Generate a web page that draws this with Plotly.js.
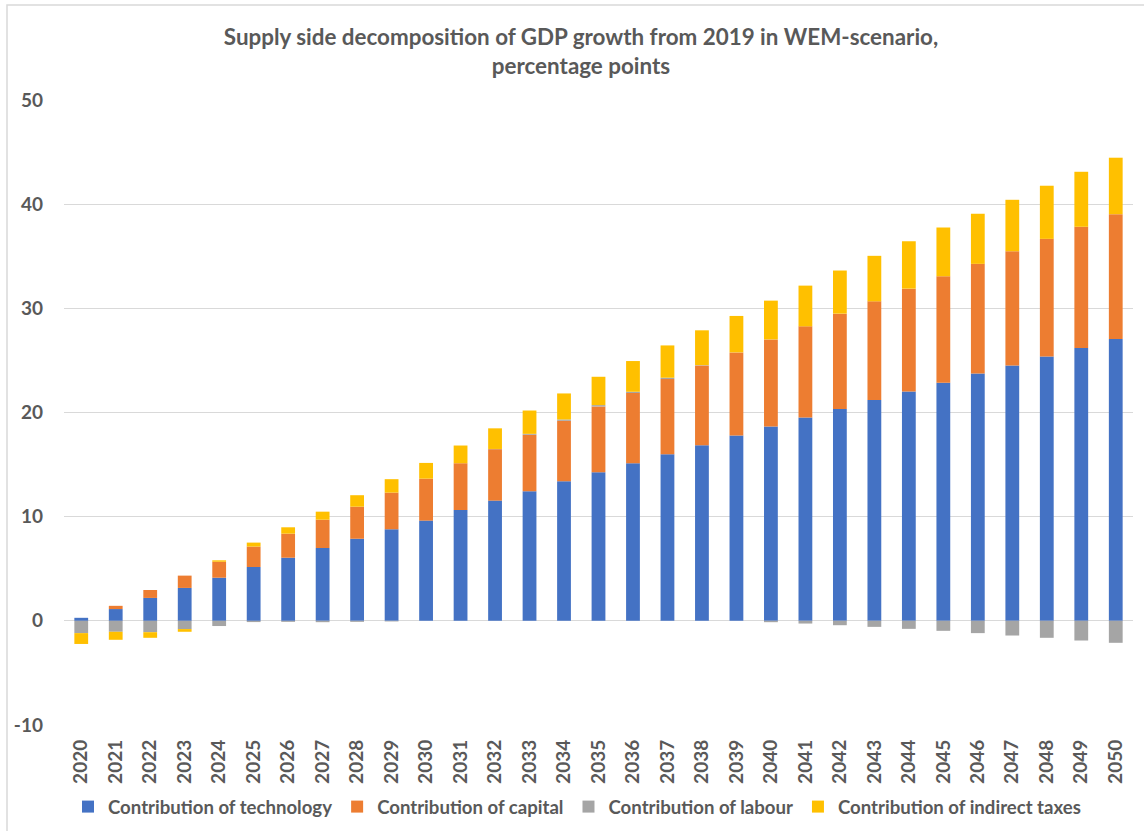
<!DOCTYPE html>
<html>
<head>
<meta charset="utf-8">
<script src="https://cdn.plot.ly/plotly-3.0.1.min.js"></script>
<style>
  html, body { margin: 0; padding: 0; background: #ffffff; }
  #chart { width: 1144px; height: 831px; }
</style>
</head>
<body>
<div id="chart"></div>
<script>
// Years on the category axis
const years = ['2020','2021','2022','2023','2024','2025','2026','2027','2028','2029',
               '2030','2031','2032','2033','2034','2035','2036','2037','2038','2039',
               '2040','2041','2042','2043','2044','2045','2046','2047','2048','2049','2050'];

// Contributions to GDP growth since 2019, percentage points
const technology = [0.29, 1.13, 2.20, 3.16, 4.14, 5.17, 6.06, 6.99, 7.88, 8.79,
                    9.62, 10.64, 11.54, 12.44, 13.40, 14.27, 15.13, 16.00, 16.86, 17.79,
                    18.65, 19.52, 20.33, 21.19, 22.02, 22.86, 23.75, 24.52, 25.38, 26.19, 27.06];
const capital = [0.00, 0.31, 0.76, 1.18, 1.53, 1.96, 2.31, 2.72, 3.08, 3.52,
                 4.03, 4.49, 4.94, 5.42, 5.80, 6.31, 6.74, 7.21, 7.66, 7.98,
                 8.37, 8.75, 9.16, 9.48, 9.87, 10.22, 10.52, 10.96, 11.29, 11.64, 11.98];
const labour = [-1.18, -1.05, -1.09, -0.79, -0.50, -0.12, -0.10, -0.13, -0.10, -0.06,
                0.00, 0.00, 0.02, 0.09, 0.13, 0.13, 0.12, 0.13, 0.03, 0.00,
                -0.13, -0.26, -0.42, -0.58, -0.77, -0.96, -1.18, -1.41, -1.63, -1.89, -2.11];
const indirectTaxes = [-1.04, -0.77, -0.54, -0.26, 0.14, 0.38, 0.61, 0.77, 1.10, 1.29,
                       1.51, 1.70, 1.98, 2.24, 2.50, 2.72, 2.95, 3.10, 3.34, 3.50,
                       3.72, 3.91, 4.14, 4.37, 4.55, 4.68, 4.81, 4.94, 5.10, 5.28, 5.42];

// Series names and value-axis ticks
const seriesNames = ['Contribution of technology', 'Contribution of capital',
                     'Contribution of labour', 'Contribution of indirect taxes'];
const yTickVals = [-10, 0, 10, 20, 30, 40, 50];
const yTickText = ['-10', '0', '10', '20', '30', '40', '50'];

const seriesColors = ['#4472C4', '#ED7D31', '#A5A5A5', '#FFC000'];
const seriesValues = [technology, capital, labour, indirectTaxes];

const textColor = '#595959';
const fontFamily = 'Lato, "Open Sans", sans-serif';

const traces = seriesValues.map((vals, i) => ({
  type: 'bar',
  name: seriesNames[i],
  x: years,
  y: vals,
  marker: { color: seriesColors[i], line: { width: 0 } },
  hoverinfo: 'skip'
}));

// Plot-area pixel geometry used to place the frame of the chart
const W = 1144, H = 831;
const mL = 64, mR = 11, mT = 100, mB = 105.5;
const plotW = W - mL - mR, plotH = H - mT - mB;
const px = v => (v - mL) / plotW;
const py = v => (H - mB - v) / plotH;

const layout = {
  width: W,
  height: H,
  margin: { l: mL, r: mR, t: mT, b: mB, pad: 0, autoexpand: false },
  paper_bgcolor: '#ffffff',
  plot_bgcolor: '#ffffff',
  barmode: 'relative',
  bargap: 0.6,
  showlegend: true,
  font: { family: fontFamily, color: textColor },
  title: {
    text: 'Supply side decomposition of GDP growth from 2019 in WEM-scenario,<br>percentage points',
    font: { family: fontFamily, size: 22.4, color: textColor, weight: 'bold' },
    xref: 'container', x: 581 / W, xanchor: 'center',
    yref: 'container', y: 1 - 45 / H, yanchor: 'top'
  },
  xaxis: {
    type: 'category',
    tickangle: -90,
    tickfont: { family: fontFamily, size: 19, color: textColor, weight: 'bold' },
    showgrid: false,
    showline: false,
    zeroline: false,
    ticks: '',
    ticklabelstandoff: 10,
    automargin: false,
    fixedrange: true
  },
  yaxis: {
    range: [-10, 50],
    tickmode: 'array',
    tickvals: yTickVals,
    ticktext: yTickText,
    tickfont: { family: fontFamily, size: 19, color: textColor, weight: 'bold' },
    showgrid: true,
    gridcolor: '#D9D9D9',
    gridwidth: 1,
    zeroline: true,
    zerolinecolor: '#D9D9D9',
    zerolinewidth: 1,
    showline: false,
    ticks: '',
    ticklabelstandoff: 20,
    automargin: false,
    fixedrange: true
  },
  legend: {
    orientation: 'h',
    xref: 'container', x: 577 / W, xanchor: 'center',
    yref: 'container', y: 1 - 807 / H, yanchor: 'middle',
    traceorder: 'normal',
    font: { family: fontFamily, size: 18.6, color: textColor, weight: 'bold' },
    itemwidth: 30,
    bgcolor: 'rgba(0,0,0,0)'
  },
  shapes: [
    {
      type: 'rect', xref: 'paper', yref: 'paper', layer: 'below',
      x0: px(7), x1: px(1160), y0: py(5), y1: py(850),
      line: { color: '#D9D9D9', width: 1.5 },
      fillcolor: 'rgba(0,0,0,0)'
    }
  ]
};

Plotly.newPlot('chart', traces, layout, { staticPlot: true, displayModeBar: false });
</script>
</body>
</html>
